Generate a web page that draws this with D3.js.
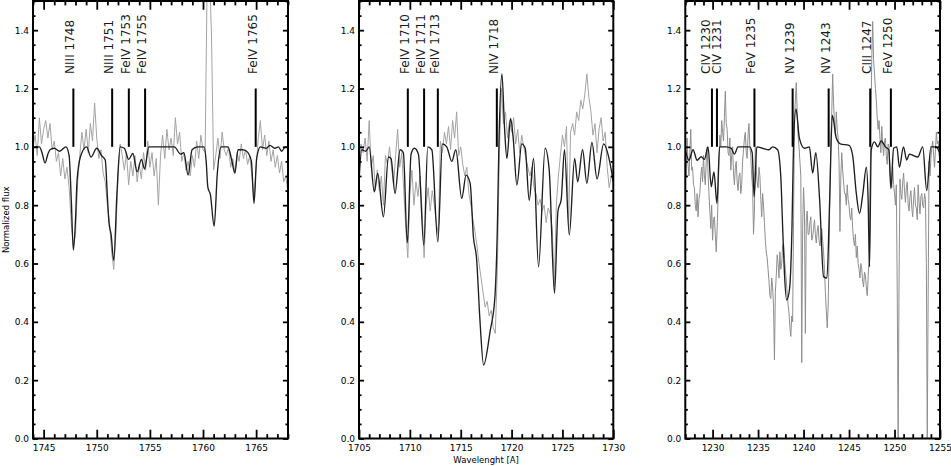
<!DOCTYPE html>
<html><head><meta charset="utf-8">
<script src="https://cdn.jsdelivr.net/npm/d3@7"></script>
<style>
html,body{margin:0;padding:0;background:#fff;}
svg{display:block;font-family:"DejaVu Sans",sans-serif;}
</style></head>
<body><svg id="chart" width="951" height="466"></svg>
<script>
// ---------- DATA ----------
// Observed spectra: each row = start wavelength, then fluxes on a regular grid (obsSteps)
const obs1 = [
"1744: 1.00 1.04 0.97 1.10 1.01","1745: 1.06 1.09 1.03 1.08 0.99","1746: 1.02 0.95 0.98 0.90 0.96",
"1747: 0.89 0.93 0.86 0.74 0.66","1748: 0.70 0.88 0.97 1.05 0.99","1749: 1.06 0.98 1.08 1.02 1.15",
"1750: 1.03 0.96 0.99 0.91 0.88","1751: 0.80 0.74 0.64 0.58 0.70","1752: 0.90 1.01 0.97 0.92 0.98",
"1753: 0.87 0.95 0.90 0.97 0.88","1754: 0.94 0.89 0.98 0.92 1.02","1755: 0.93 0.98 0.90 0.96 0.80",
"1756: 0.97 1.04 0.96 1.06 0.99","1757: 1.03 0.97 1.10 1.01 1.05","1758: 0.95 0.98 0.92 0.95 0.90",
"1759: 0.97 0.93 1.02 0.96 1.04","1760: 0.99 0.98 1.60 1.62 1.38","1761: 0.92 0.97 1.03 0.96 1.05",
"1762: 0.99 0.97 1.00 0.93 0.96","1763: 0.91 0.98 0.95 1.01 0.96","1764: 0.99 0.94 0.97 0.90 0.82",
"1765: 0.93 1.03 1.09 0.99 1.04","1766: 0.97 1.02 0.95 0.99 0.93","1767: 0.97 0.91 0.95 0.88 0.90",
"1768: 0.84"];
const obs2 = [
"1705: 0.92 1.01 0.98 1.03 0.95","1706: 1.09 0.93 0.97 0.85 0.92","1707: 0.85 0.90 0.80 0.97 0.94",
"1708: 1.00 0.93 0.87 0.97 1.06","1709: 0.93 0.98 0.85 0.72 0.62","1710: 0.84 0.92 0.80 0.88 0.83",
"1711: 0.90 0.78 0.62 0.80 0.86","1712: 0.78 0.85 0.80 0.74 0.70","1713: 1.02 0.98 1.05 1.01 1.07",
"1714: 0.99 1.09 1.03 1.12 0.97","1715: 1.00 0.94 0.90 0.93 0.84","1716: 0.80 0.75 0.71 0.66 0.60",
"1717: 0.55 0.50 0.45 0.47 0.42","1718: 0.44 0.38 0.36 0.58 0.98","1719: 1.20 1.08 1.12 1.03 1.09",
"1720: 1.05 1.10 1.01 1.06 0.98","1721: 1.04 1.00 0.96 0.93 0.90","1722: 0.93 0.86 0.84 0.80 0.82",
"1723: 0.78 0.80 0.74 0.79 0.77","1724: 0.72 0.52 0.80 0.90 0.97","1725: 1.04 1.00 1.07 0.72 1.05",
"1726: 1.08 1.04 1.12 1.09 1.16","1727: 1.13 1.18 1.25 1.17 1.12","1728: 1.04 1.08 0.98 1.06 1.10",
"1729: 1.02 1.05 0.93 0.86 0.90","1730: 0.88"];
const obs3 = [
"1227: 0.95 0.90 1.03 0.94 0.90 0.98 1.06 0.92 0.93 0.87",
"1228: 0.86 0.80 0.78 0.84 0.76 0.82 0.84 0.90 0.93 0.88",
"1229: 0.97 0.90 0.87 0.95 1.00 0.91 0.84 0.78 0.72 0.80",
"1230: 0.68 0.75 0.76 0.70 0.64 0.72 0.82 0.95 1.04 1.00",
"1231: 1.09 1.05 1.02 1.10 1.19 1.08 1.06 0.98 0.97 1.03",
"1232: 0.92 0.97 1.00 0.91 0.87 0.93 0.95 0.88 0.85 0.90",
"1233: 0.91 0.84 0.87 0.95 0.99 1.03 1.05 0.98 0.96 1.04",
"1234: 1.08 1.00 0.97 0.90 0.86 0.70 0.78 1.00 0.92 0.88",
"1235: 0.86 0.93 0.90 0.82 0.76 0.84 0.80 0.74 0.68 0.64",
"1236: 0.62 0.58 0.54 0.49 0.48 0.55 0.52 0.45 0.27 0.50",
"1237: 0.56 0.63 0.60 0.55 0.64 0.58 0.60 0.66 0.67 0.62",
"1238: 0.58 0.54 0.50 0.46 0.43 0.38 0.35 0.42 0.40 0.75",
"1239: 1.10 1.16 1.22 1.12 1.04 1.00 0.95 0.90 0.26 0.72",
"1240: 0.86 0.78 0.36 0.75 0.78 0.70 0.70 0.74 0.76 0.68",
"1241: 0.69 0.72 0.75 0.70 0.67 0.71 0.73 0.68 0.66 0.70",
"1242: 0.72 0.68 0.64 0.58 0.50 0.44 0.38 0.45 0.62 0.85",
"1243: 1.02 1.12 1.25 1.15 1.08 1.04 1.12 1.06 1.03 0.95",
"1244: 0.71 0.90 0.98 0.92 0.88 0.84 0.84 0.80 0.87 0.82",
"1245: 0.80 0.76 0.75 0.79 0.72 0.68 0.66 0.70 0.62 0.66",
"1246: 0.60 0.58 0.55 0.60 0.58 0.54 0.52 0.57 0.56 0.52",
"1247: 0.49 0.55 0.62 0.85 1.05 1.30 1.43 1.30 1.25 1.20",
"1248: 1.16 1.10 1.06 1.09 1.03 0.98 1.07 1.01 0.97 1.02",
"1249: 1.03 0.97 0.94 1.01 1.00 0.93 0.88 0.86 0.93 0.87",
"1250: 0.84 0.80 0.87 0.50 0.00 0.55 0.89 0.84 0.82 0.88",
"1251: 0.91 0.85 0.81 0.86 0.88 0.80 0.78 0.83 0.85 0.79",
"1252: 0.76 0.82 0.86 0.80 0.79 0.75 0.87 0.81 0.77 0.83",
"1253: 0.84 0.80 0.79 0.84 0.82 0.60 0.00 0.50 0.95 0.90",
"1254: 0.96 1.00 1.02 0.97 0.93 0.99 1.05 1.01 1.02 0.97",
"1255: 0.98"];
const obsSteps = [0.2, 0.2, 0.1];

// Model spectra: [wavelength, flux]
const model1 = [[1744.0,1.0],[1744.6,1.0],[1744.85,0.98],[1745.13,0.945],[1745.4,0.975],[1745.6,0.99],[1746.0,0.995],[1746.5,0.985],[1747.1,1.0],[1747.4,0.97],[1747.6,0.82],[1747.8,0.646],[1748.0,0.75],[1748.15,0.886],[1748.5,0.97],[1749.05,1.0],[1749.45,0.965],[1750.0,0.995],[1750.45,0.97],[1750.8,0.955],[1751.0,0.83],[1751.15,0.74],[1751.35,0.70],[1751.6,0.611],[1751.9,0.84],[1752.2,1.0],[1752.6,0.995],[1753.0,0.957],[1753.4,0.977],[1753.8,0.914],[1754.2,0.957],[1754.5,0.924],[1754.9,1.0],[1755.5,1.0],[1757.3,1.0],[1757.9,0.975],[1758.2,0.98],[1758.6,0.903],[1758.97,0.99],[1759.5,1.0],[1760.1,1.0],[1760.3,0.95],[1760.45,0.863],[1760.7,0.835],[1761.05,0.728],[1761.35,0.91],[1761.7,1.0],[1762.35,1.0],[1762.7,0.955],[1763.0,0.91],[1763.3,0.99],[1763.7,0.99],[1764.1,0.985],[1764.55,0.952],[1764.8,0.806],[1765.05,0.96],[1765.4,1.0],[1765.95,0.995],[1766.3,1.005],[1766.75,0.995],[1767.1,1.0],[1767.4,0.985],[1767.75,1.0],[1768.0,1.0]];
const model2 = [[1705.0,0.88],[1705.27,0.99],[1705.66,0.985],[1706.0,1.0],[1706.5,0.846],[1706.84,0.909],[1707.4,0.76],[1707.9,0.965],[1708.15,0.96],[1708.54,0.84],[1709.04,0.99],[1709.36,0.98],[1709.75,0.671],[1710.12,0.975],[1710.44,0.995],[1710.84,0.975],[1711.37,0.663],[1711.76,1.0],[1712.16,0.99],[1712.75,0.674],[1713.2,1.01],[1713.63,1.0],[1714.12,0.95],[1714.52,0.99],[1715.1,0.823],[1715.53,0.903],[1715.93,0.875],[1716.25,0.69],[1716.55,0.62],[1716.9,0.40],[1717.25,0.252],[1717.9,0.37],[1718.35,0.48],[1718.6,0.72],[1718.75,1.0],[1719.05,1.25],[1719.3,1.07],[1719.54,0.96],[1719.9,1.097],[1720.16,1.03],[1720.52,0.869],[1721.0,1.01],[1721.34,0.995],[1721.73,0.817],[1722.16,0.96],[1722.65,0.589],[1723.3,0.995],[1723.7,0.92],[1724.22,0.498],[1724.56,0.78],[1724.88,0.82],[1725.2,0.99],[1725.67,0.698],[1726.2,0.96],[1726.5,0.88],[1726.98,0.99],[1727.4,0.875],[1727.9,1.015],[1728.4,0.89],[1729.05,1.01],[1729.55,0.965],[1730.0,0.88]];
const model3 = [[1227.0,0.99],[1227.4,0.954],[1227.85,0.99],[1228.3,0.954],[1228.75,0.966],[1229.1,0.957],[1229.5,1.0],[1229.85,0.863],[1230.15,0.914],[1230.48,0.806],[1230.77,1.0],[1231.5,1.0],[1232.05,0.995],[1232.4,0.975],[1232.8,1.0],[1234.05,1.0],[1234.35,0.98],[1234.57,0.829],[1234.86,1.0],[1235.5,0.995],[1236.2,0.99],[1236.6,1.0],[1237.15,0.99],[1237.5,0.897],[1237.7,0.726],[1237.9,0.566],[1238.15,0.475],[1238.45,0.51],[1238.73,0.726],[1238.9,1.01],[1239.17,1.13],[1239.54,1.03],[1240.1,0.995],[1240.64,1.0],[1241.0,0.91],[1241.35,0.98],[1241.77,0.817],[1242.2,0.555],[1242.57,0.55],[1242.87,0.817],[1243.16,1.108],[1243.6,1.03],[1244.04,1.01],[1245.0,1.005],[1245.4,0.97],[1245.8,0.84],[1246.16,0.772],[1246.52,0.84],[1246.9,0.93],[1247.1,0.817],[1247.25,0.589],[1247.44,0.99],[1247.8,1.017],[1248.16,1.0],[1248.53,1.02],[1249.0,1.0],[1249.37,0.99],[1249.6,0.857],[1249.9,0.995],[1250.25,1.0],[1250.54,0.93],[1250.98,1.0],[1251.34,0.955],[1251.64,0.975],[1252.08,0.97],[1252.55,0.965],[1253.1,1.0],[1253.54,0.85],[1254.0,1.0],[1254.55,1.0],[1255.0,0.977]];

// Line identifications
const lines1 = [["NIII 1748",1747.8],["NIII 1751",1751.45],["FeIV 1753",1753.02],["FeIV 1755",1754.55],["FeIV 1765",1764.96]];
const lines2 = [["FeIV 1710",1709.8],["FeIV 1711",1711.4],["FeIV 1713",1712.75],["NIV 1718",1718.55]];
const lines3 = [["CIV 1230",1229.93],["CIV 1231",1230.48],["FeV 1235",1234.6],["NV 1239",1238.8],["NV 1243",1242.76],["CIII 1247",1247.33],["FeV 1250",1249.6]];

const xDomains = [[1744,1768],[1705,1730],[1227,1255]];
const yDomain = [0,1.5];
const xMajorStep = 5, xMinorStep = 1, yMajorStep = 0.2, yMinorStep = 0.05;
const yTitle = "Normalized flux";
const xTitle = "Wavelenght [A]";

// ---------- LAYOUT ----------
const frames = [{l:33,r:288},{l:359,r:613.3},{l:685.3,r:940}];
const plotTop = 1, plotBottom = 438.5;
const obsColors = ["#a3a3a3","#a3a3a3","#8e8e8e"];

function parseObs(rows, step){
  const out = [];
  rows.forEach(r=>{
    const [s, vals] = r.split(":");
    const l0 = +s;
    vals.trim().split(/\s+/).forEach((v,i)=>out.push([l0 + i*step, +v]));
  });
  return out;
}
const panels = [
  {obs:parseObs(obs1,obsSteps[0]), model:model1, lines:lines1},
  {obs:parseObs(obs2,obsSteps[1]), model:model2, lines:lines2},
  {obs:parseObs(obs3,obsSteps[2]), model:model3, lines:lines3}
];

const svg = d3.select("#chart");
const y = d3.scaleLinear().domain(yDomain).range([plotBottom, plotTop]);
const yMajor = d3.range(0, 1.4001, yMajorStep);
const yMinor = d3.range(0, 1.5001, yMinorStep).filter(v=>Math.abs(v/yMajorStep - Math.round(v/yMajorStep))>1e-6);
const plotH = plotBottom-plotTop;

panels.forEach((p,i)=>{
  const f = frames[i];
  const x = d3.scaleLinear().domain(xDomains[i]).range([f.l, f.r]);
  const [d0,d1] = xDomains[i];
  const xMajor = d3.range(Math.ceil(d0/xMajorStep)*xMajorStep, d1+0.001, xMajorStep);
  const xMinor = d3.range(d0, d1+0.001, xMinorStep).filter(v=>v % xMajorStep !== 0);
  const plotW = f.r - f.l;
  const g = svg.append("g");

  const clipId = "clip"+i;
  svg.append("clipPath").attr("id",clipId).append("rect")
    .attr("x",f.l).attr("y",plotTop).attr("width",plotW).attr("height",plotH);

  const dg = g.append("g").attr("clip-path",`url(#${clipId})`);
  dg.append("path").datum(p.obs)
    .attr("fill","none").attr("stroke",obsColors[i]).attr("stroke-width",1)
    .attr("stroke-linejoin","round")
    .attr("d", d3.line().x(d=>x(d[0])).y(d=>y(d[1])));
  dg.append("path").datum(p.model)
    .attr("fill","none").attr("stroke","#1e1e1e").attr("stroke-width",1.35)
    .attr("d", d3.line().curve(d3.curveMonotoneX).x(d=>x(d[0])).y(d=>y(d[1])));

  // markers
  g.selectAll("line.mark").data(p.lines).join("line")
    .attr("x1",d=>x(d[1])).attr("x2",d=>x(d[1]))
    .attr("y1",y(1.0)).attr("y2",y(1.2))
    .attr("stroke","#000").attr("stroke-width",2);
  // label positions with simple collision avoidance
  const pos = p.lines.map(d=>x(d[1]));
  const minGap = 11.4;
  for(let it=0; it<20; it++){
    for(let k=1;k<pos.length;k++){
      const gap = pos[k]-pos[k-1];
      if(gap < minGap){ const s=(minGap-gap)/2; pos[k-1]-=s; pos[k]+=s; }
    }
  }
  g.selectAll("text.lab").data(p.lines).join("text")
    .attr("transform",(d,k)=>`translate(${pos[k]+1},${y(1.25)}) rotate(-90)`)
    .attr("font-size",12).attr("fill","#1a1a1a")
    .attr("text-anchor","start")
    .text(d=>d[0]);

  // axes (ticks inward)
  const tickW = 1.8;
  const style = sel=>{ sel.select(".domain").remove(); sel.selectAll("line").attr("stroke","#000").attr("stroke-width",tickW); sel.selectAll("text").attr("font-family","DejaVu Sans").attr("font-size",9).attr("fill","#000"); };
  const xLen = 0.02*plotH, yLen = 0.02*plotW;
  g.append("g").attr("transform",`translate(0,${plotBottom})`)
    .call(d3.axisBottom(x).tickValues(xMajor).tickSize(-xLen).tickPadding(6).tickFormat(d3.format("d"))).call(style);
  g.append("g").attr("transform",`translate(0,${plotBottom})`)
    .call(d3.axisBottom(x).tickValues(xMinor).tickSize(-xLen/2).tickFormat("")).call(style);
  g.append("g").attr("transform",`translate(0,${plotTop})`)
    .call(d3.axisTop(x).tickValues(xMajor).tickSize(-xLen).tickFormat("")).call(style);
  g.append("g").attr("transform",`translate(0,${plotTop})`)
    .call(d3.axisTop(x).tickValues(xMinor).tickSize(-xLen/2).tickFormat("")).call(style);
  g.append("g").attr("transform",`translate(${f.l},0)`)
    .call(d3.axisLeft(y).tickValues(yMajor).tickSize(-yLen).tickPadding(4).tickFormat(d3.format(".1f"))).call(style);
  g.append("g").attr("transform",`translate(${f.l},0)`)
    .call(d3.axisLeft(y).tickValues(yMinor).tickSize(-yLen/2).tickFormat("")).call(style);
  g.append("g").attr("transform",`translate(${f.r},0)`)
    .call(d3.axisRight(y).tickValues(yMajor).tickSize(-yLen).tickFormat("")).call(style);
  g.append("g").attr("transform",`translate(${f.r},0)`)
    .call(d3.axisRight(y).tickValues(yMinor).tickSize(-yLen/2).tickFormat("")).call(style);

  g.append("rect").attr("x",f.l).attr("y",plotTop).attr("width",plotW).attr("height",plotH)
    .attr("fill","none").attr("stroke","#000").attr("stroke-width",2);

  if(i===1){
    svg.append("text").attr("x",(f.l+f.r)/2).attr("y",462.5)
      .attr("text-anchor","middle").attr("font-size",8.5).text(xTitle);
  }
});

svg.append("text").attr("transform",`translate(8.5,${(plotTop+plotBottom)/2}) rotate(-90)`)
  .attr("text-anchor","middle").attr("font-size",8.5).text(yTitle);
</script>
</body></html>
